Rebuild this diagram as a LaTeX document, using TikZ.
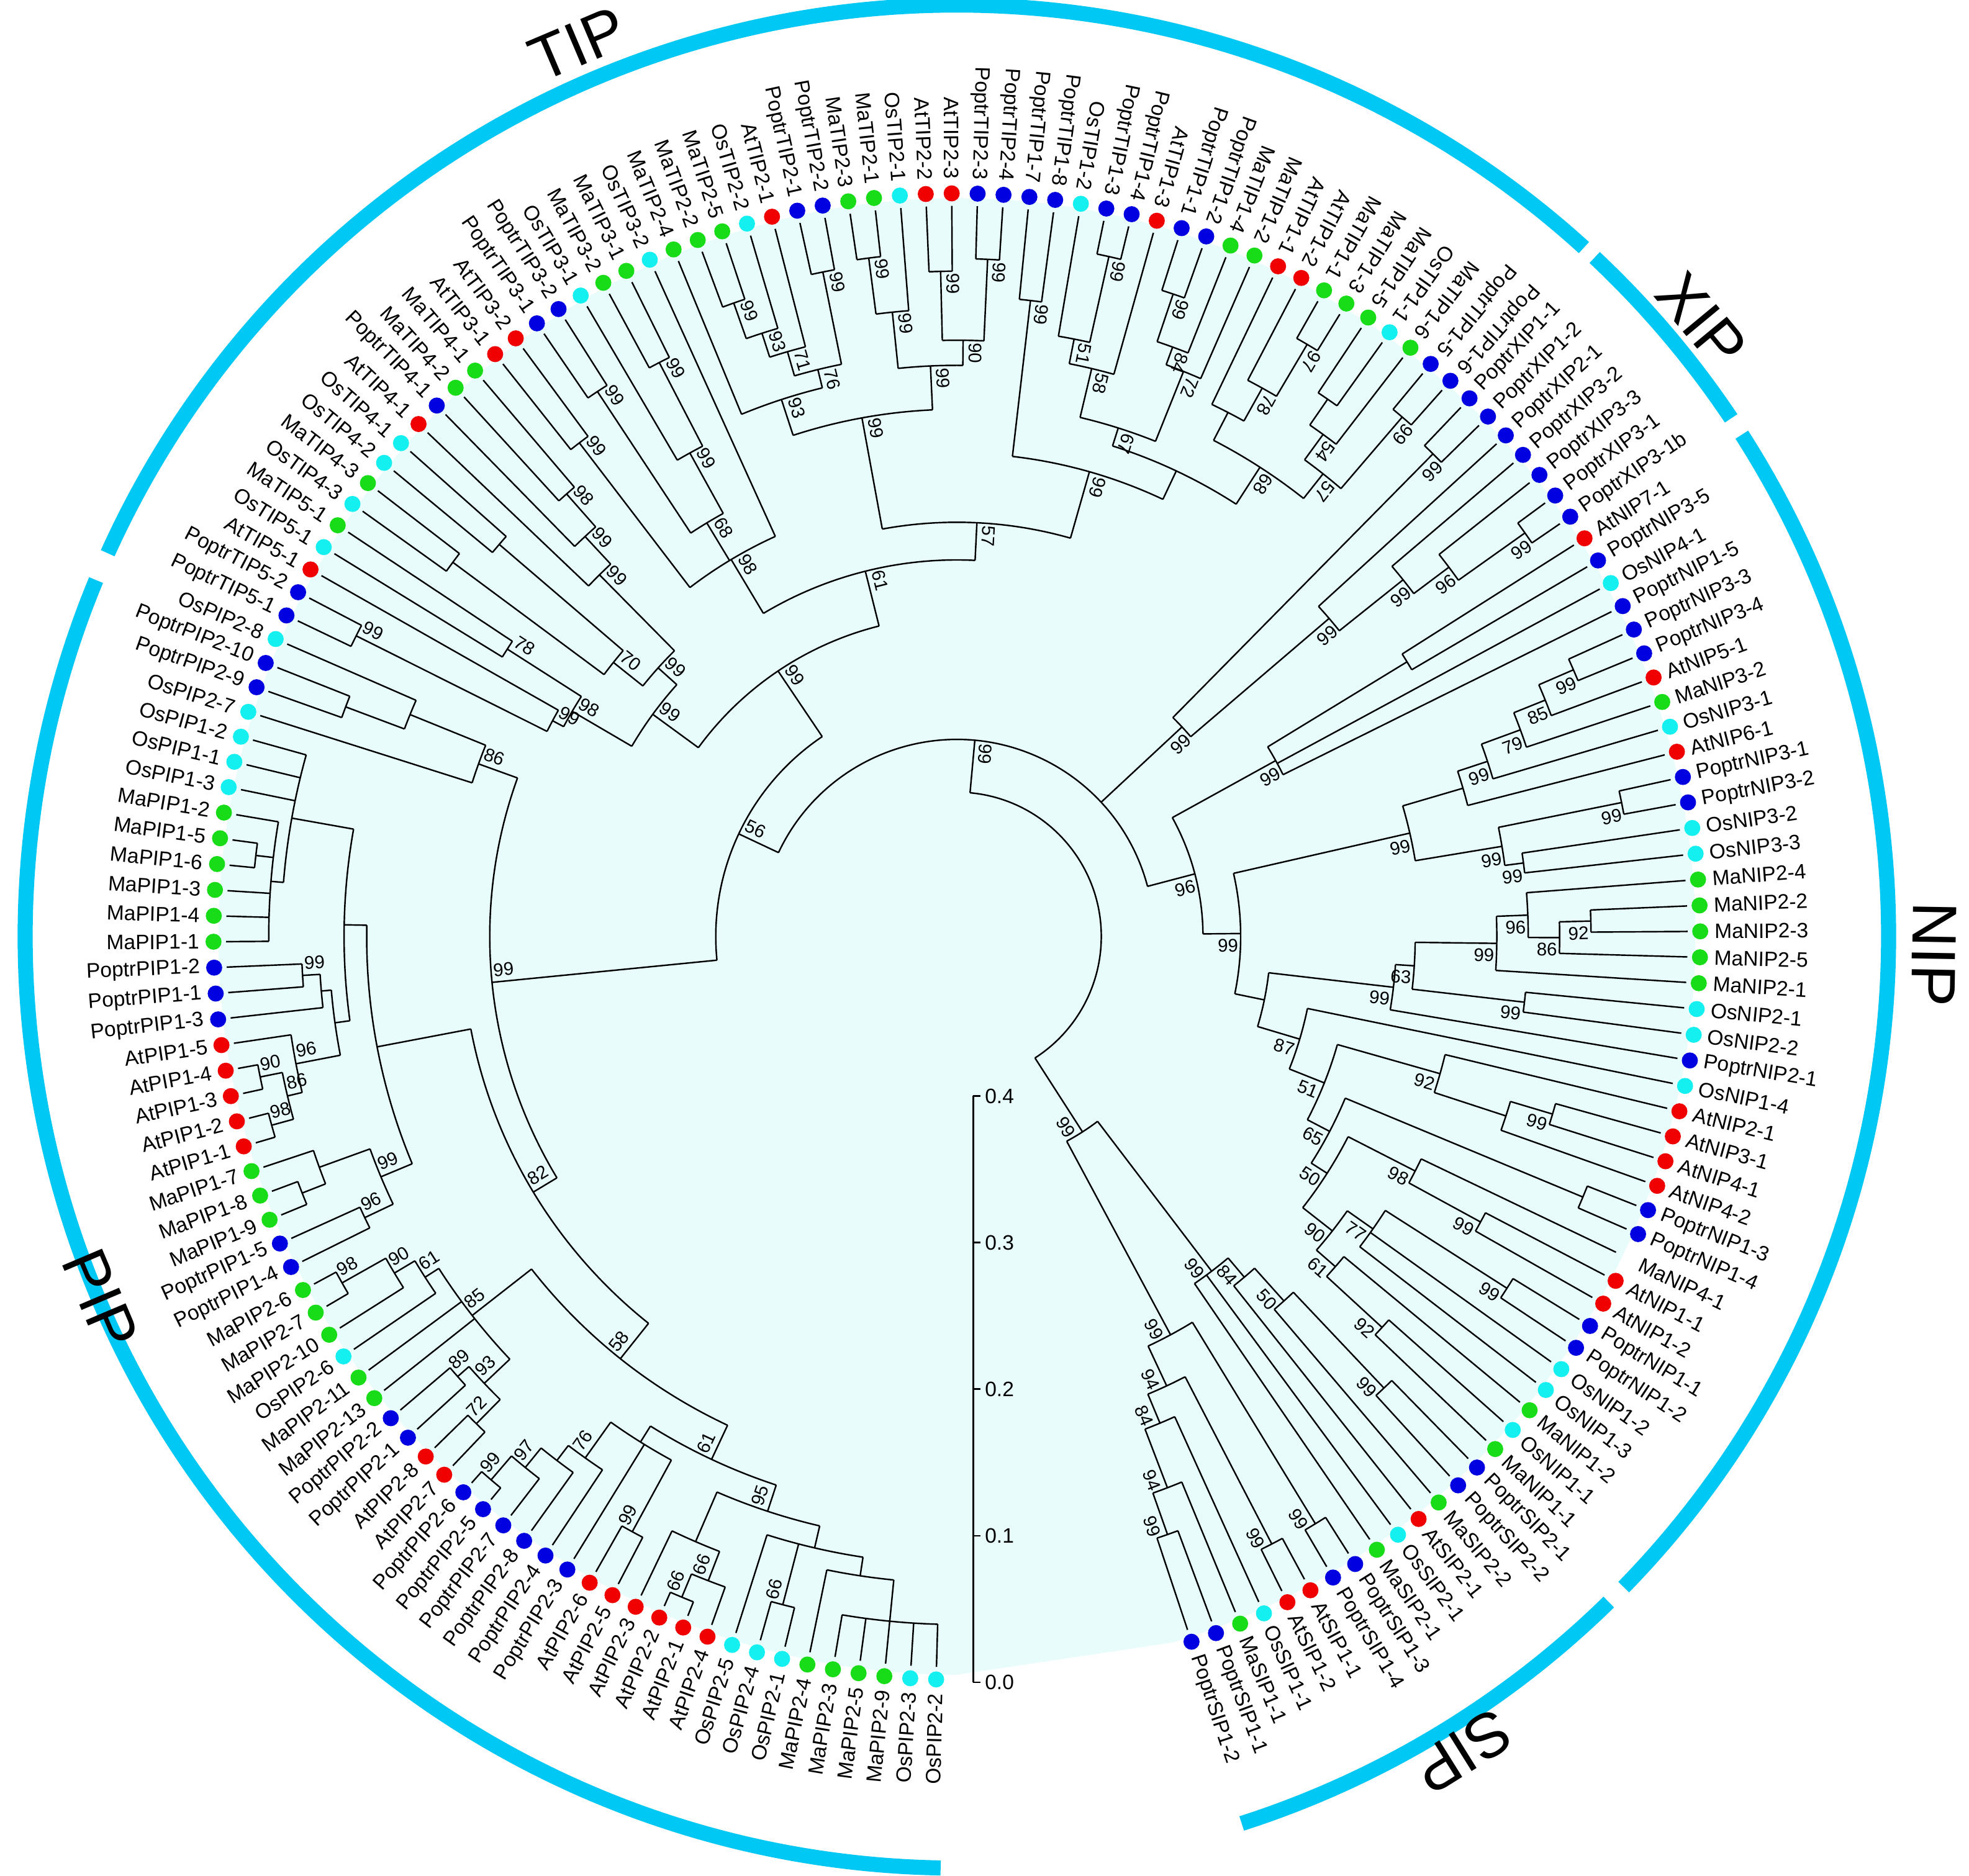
\documentclass[tikz,border=0pt]{standalone}
\usepackage{fontspec}
\setmainfont{Liberation Sans}
\definecolor{colr}{RGB}{240,0,0}
\definecolor{colb}{RGB}{0,0,225}
\definecolor{colg}{RGB}{25,220,25}
\definecolor{colc}{RGB}{20,240,240}
\definecolor{grp}{RGB}{0,200,245}
\definecolor{bgc}{RGB}{232,252,252}
\tikzset{br/.style={line width=0.6pt,black},
  lf/.style={font=\fontsize{8.3}{9}\selectfont,inner sep=0pt},
  bs/.style={font=\fontsize{7.3}{8}\selectfont,inner sep=0pt},
  grparc/.style={line width=6pt,grp},
  grplab/.style={font=\fontsize{25}{26}\selectfont,inner sep=0pt}}
\makeatletter
\newcommand\cl[4]{%
  \gdef\cl@first{}%
  \foreach \c in {#3}{%
    \pgfmathsetmacro\cl@a{\csname ang@\c\endcsname}%
    \pgfmathsetmacro\cl@R{\csname rad@\c\endcsname}%
    \draw[br] ({#2*cos(\cl@a)},{#2*sin(\cl@a)}) -- ({\cl@R*cos(\cl@a)},{\cl@R*sin(\cl@a)});%
    \ifx\cl@first\@empty\xdef\cl@first{\cl@a}\fi
    \xdef\cl@last{\cl@a}%
  }%
  \draw[br] ({#2*cos(\cl@first)},{#2*sin(\cl@first)}) arc[start angle=\cl@first,end angle=\cl@last,radius=#2*0.5pt];%
  \pgfmathsetmacro\cl@m{(\cl@first+\cl@last)/2}%
  \expandafter\xdef\csname ang@#1\endcsname{\cl@m}%
  \expandafter\xdef\csname rad@#1\endcsname{#2}%
  \if\relax\detokenize{#4}\relax\else
    \pgfmathsetmacro\cl@ba{\cl@m-560/#2}%
    \pgfmathsetmacro\cl@br{#2-10}%
    \pgfmathsetmacro\cl@rot{\cl@m>47?\cl@m+180:\cl@m}%
    \node[bs,rotate=\cl@rot] (bs#1) at ({\cl@br*cos(\cl@ba)},{\cl@br*sin(\cl@ba)}) {#4};%
  \fi
}
\makeatother
\begin{document}
\begin{tikzpicture}[x=0.5pt,y=0.5pt]
\fill[white] (-762,-748) rectangle (806,746);
\useasboundingbox (-762,-748) rectangle (806,746);
\fill[bgc] ({588*cos(-73)},{588*sin(-73)}) arc[start angle=-73,end angle=270,radius=294pt] -- cycle;
% group arcs
\draw[grparc] ({742*cos(157.5)},{742*sin(157.5)}) arc[start angle=157.5,end angle=269,radius=371pt];
\draw[grparc] ({742*cos(47.7)},{742*sin(47.7)}) arc[start angle=47.7,end angle=155.7,radius=371pt];
\draw[grparc] ({742*cos(33.8)},{742*sin(33.8)}) arc[start angle=33.8,end angle=46.8,radius=371pt];
\draw[grparc] ({742*cos(-44.3)},{742*sin(-44.3)}) arc[start angle=-44.3,end angle=32.6,radius=371pt];
\draw[grparc] ({742*cos(-72.2)},{742*sin(-72.2)}) arc[start angle=-72.2,end angle=-45.6,radius=371pt];
\node[grplab,rotate=23] (gTIP) at (-302,711) {TIP};
\node[grplab,rotate=-50.4] (gXIP) at (593,491) {XIP};
\node[grplab,rotate=-91] (gNIP) at (778,-14) {NIP};
\node[grplab,rotate=-148] (gSIP) at (403,-649) {SIP};
\node[grplab,rotate=-67] (gPIP) at (-682,-289) {PIP};
% leaves
\def\tmpn{n}
\foreach \i/\n/\c in {0/OsPIP2-2/c,1/OsPIP2-3/c,2/MaPIP2-9/g,3/MaPIP2-5/g,4/MaPIP2-3/g,5/MaPIP2-4/g,6/OsPIP2-1/c,7/OsPIP2-4/c,8/OsPIP2-5/c,9/AtPIP2-4/r,10/AtPIP2-1/r,11/AtPIP2-2/r,12/AtPIP2-3/r,13/AtPIP2-5/r,14/AtPIP2-6/r,15/PoptrPIP2-3/b,16/PoptrPIP2-4/b,17/PoptrPIP2-8/b,18/PoptrPIP2-7/b,19/PoptrPIP2-5/b,20/PoptrPIP2-6/b,21/AtPIP2-7/r,22/AtPIP2-8/r,23/PoptrPIP2-1/b,24/PoptrPIP2-2/b,25/MaPIP2-13/g,26/MaPIP2-11/g,27/OsPIP2-6/c,28/MaPIP2-10/g,29/MaPIP2-7/g,30/MaPIP2-6/g,31/PoptrPIP1-4/b,32/PoptrPIP1-5/b,33/MaPIP1-9/g,34/MaPIP1-8/g,35/MaPIP1-7/g,36/AtPIP1-1/r,37/AtPIP1-2/r,38/AtPIP1-3/r,39/AtPIP1-4/r,40/AtPIP1-5/r,41/PoptrPIP1-3/b,42/PoptrPIP1-1/b,43/PoptrPIP1-2/b,44/MaPIP1-1/g,45/MaPIP1-4/g,46/MaPIP1-3/g,47/MaPIP1-6/g,48/MaPIP1-5/g,49/MaPIP1-2/g,50/OsPIP1-3/c,51/OsPIP1-1/c,52/OsPIP1-2/c,53/OsPIP2-7/c,54/PoptrPIP2-9/b,55/PoptrPIP2-10/b,56/OsPIP2-8/c,
57/PoptrTIP5-1/b,58/PoptrTIP5-2/b,59/AtTIP5-1/r,60/OsTIP5-1/c,61/MaTIP5-1/g,62/OsTIP4-3/c,63/MaTIP4-3/g,64/OsTIP4-2/c,65/OsTIP4-1/c,66/AtTIP4-1/r,67/PoptrTIP4-1/b,68/MaTIP4-2/g,69/MaTIP4-1/g,70/AtTIP3-1/r,71/AtTIP3-2/r,72/PoptrTIP3-1/b,73/PoptrTIP3-2/b,74/OsTIP3-1/c,75/MaTIP3-2/g,76/MaTIP3-1/g,77/OsTIP3-2/c,78/MaTIP2-4/g,79/MaTIP2-2/g,80/MaTIP2-5/g,81/OsTIP2-2/c,82/AtTIP2-1/r,83/PoptrTIP2-1/b,84/PoptrTIP2-2/b,85/MaTIP2-3/g,86/MaTIP2-1/g,87/OsTIP2-1/c,88/AtTIP2-2/r,89/AtTIP2-3/r,90/PoptrTIP2-3/b,91/PoptrTIP2-4/b,92/PoptrTIP1-7/b,93/PoptrTIP1-8/b,94/OsTIP1-2/c,95/PoptrTIP1-3/b,96/PoptrTIP1-4/b,97/AtTIP1-3/r,98/PoptrTIP1-1/b,99/PoptrTIP1-2/b,100/MaTIP1-4/g,101/MaTIP1-2/g,102/AtTIP1-1/r,103/AtTIP1-2/r,104/MaTIP1-1/g,105/MaTIP1-3/g,106/MaTIP1-5/g,107/OsTIP1-1/c,108/MaTIP1-6/g,109/PoptrTIP1-5/b,110/PoptrTIP1-6/b,
111/PoptrXIP1-1/b,112/PoptrXIP1-2/b,113/PoptrXIP2-1/b,114/PoptrXIP3-2/b,115/PoptrXIP3-3/b,116/PoptrXIP3-1/b,117/PoptrXIP3-1b/b,
118/AtNIP7-1/r,119/PoptrNIP3-5/b,120/OsNIP4-1/c,121/PoptrNIP1-5/b,122/PoptrNIP3-3/b,123/PoptrNIP3-4/b,124/AtNIP5-1/r,125/MaNIP3-2/g,126/OsNIP3-1/c,127/AtNIP6-1/r,128/PoptrNIP3-1/b,129/PoptrNIP3-2/b,130/OsNIP3-2/c,131/OsNIP3-3/c,132/MaNIP2-4/g,133/MaNIP2-2/g,134/MaNIP2-3/g,135/MaNIP2-5/g,136/MaNIP2-1/g,137/OsNIP2-1/c,138/OsNIP2-2/c,139/PoptrNIP2-1/b,140/OsNIP1-4/c,141/AtNIP2-1/r,142/AtNIP3-1/r,143/AtNIP4-1/r,144/AtNIP4-2/r,145/PoptrNIP1-3/b,146/PoptrNIP1-4/b,147/MaNIP4-1/n,148/AtNIP1-1/r,149/AtNIP1-2/r,150/PoptrNIP1-1/b,151/PoptrNIP1-2/b,152/OsNIP1-2/c,153/OsNIP1-3/c,154/MaNIP1-2/g,155/OsNIP1-1/c,156/MaNIP1-1/g,
157/PoptrSIP2-1/b,158/PoptrSIP2-2/b,159/MaSIP2-2/g,160/AtSIP2-1/r,161/OsSIP2-1/c,162/MaSIP2-1/g,163/PoptrSIP1-3/b,164/PoptrSIP1-4/b,165/AtSIP1-1/r,166/AtSIP1-2/r,167/OsSIP1-1/c,168/MaSIP1-1/g,169/PoptrSIP1-1/b,170/PoptrSIP1-2/b}{%
  \pgfmathsetmacro\a{268.4-2*\i}%
  \expandafter\xdef\csname ang@\i\endcsname{\a}%
  \expandafter\xdef\csname rad@\i\endcsname{582}%
  \ifx\c\tmpn\else
    \fill[col\c] ({592*cos(\a)},{592*sin(\a)}) circle[radius=3.2pt];
  \fi
  \ifnum\i<111
    \node[lf,anchor=east,rotate=\a+180] (leaf\i) at ({603*cos(\a)},{603*sin(\a)}) {\n};
  \else
    \node[lf,anchor=west,rotate=\a] (leaf\i) at ({603*cos(\a)},{603*sin(\a)}) {\n};
  \fi
}
% ---- PIP
\cl{m1}{548}{0,1,2,3,4}{}
\cl{m2}{515}{m1,5}{}
\cl{m3}{550}{6,7}{66}
\cl{m4}{500}{m2,m3,8}{}
\cl{a1}{570}{10,11}{66}
\cl{a2}{550}{9,a1}{66}
\cl{a5}{525}{a2,12}{}
\cl{m6}{482}{m4,a5}{95}
\cl{a4}{540}{13,14}{99}
\cl{b1}{570}{19,20}{99}
\cl{b2}{545}{18,b1}{97}
\cl{b3}{525}{17,b2}{}
\cl{b4}{510}{16,b3}{76}
\cl{b5}{475}{a4,15,b4}{}
\cl{m8}{460}{m6,b5}{61}
\cl{c1}{545}{21,22}{72}
\cl{c2}{530}{23,24}{89}
\cl{c3}{518}{c1,c2}{93}
\cl{d1}{562}{29,30}{98}
\cl{d2}{522}{28,d1}{90}
\cl{d3}{503}{27,d2}{61}
\cl{d4}{490}{c3,25,26,d3}{85}
\cl{m9}{430}{m8,d4}{58}
\cl{e1}{522}{31,32}{96}
\cl{e2}{560}{33,34}{}
\cl{e3}{540}{e2,35}{}
\cl{e4}{497}{e1,e3}{99}
\cl{f1}{566}{36,37}{98}
\cl{f2}{566}{38,39}{90}
\cl{f3}{548}{f1,f2}{86}
\cl{f4}{536}{f3,40}{96}
\cl{g1}{522}{42,43}{99}
\cl{g2}{508}{41,g1}{}
\cl{h1}{562}{47,48}{}
\cl{h2}{548}{44,45,46,h1,49}{}
\cl{h3}{538}{h2,50,51,52}{}
\cl{k1}{500}{f4,g2}{}
\cl{k2}{488}{k1,h3}{}
\cl{p1}{470}{e4,k2}{}
\cl{p82}{394}{m9,p1}{82}
\cl{q1}{520}{54,55}{}
\cl{q2}{470}{q1,56}{}
\cl{q3}{405}{53,q2}{86}
\cl{pip}{372}{p82,q3}{99}
% ---- TIP
\cl{t5a}{535}{57,58}{99}
\cl{t5b}{365}{t5a,59}{99}
\cl{t5c}{425}{60,61}{78}
\cl{t5d}{355}{t5b,t5c}{98}
\cl{t4a}{500}{62,63}{}
\cl{t4b}{480}{64,65}{}
\cl{t4c}{350}{t4a,t4b}{70}
\cl{t4d}{470}{68,69}{98}
\cl{t4e}{435}{67,t4d}{99}
\cl{t4f}{405}{66,t4e}{99}
\cl{t4}{320}{t4c,t4f}{99}
\cl{t54}{300}{t5d,t4}{99}
\cl{t3p}{495}{70,71}{99}
\cl{t3a}{520}{72,73}{99}
\cl{t3q}{515}{75,76}{99}
\cl{t3b}{440}{74,t3q}{99}
\cl{t3c}{385}{t3a,t3b}{68}
\cl{t3}{350}{t3p,t3c,77}{98}
\cl{u1}{535}{79,80}{99}
\cl{u2}{505}{u1,81}{93}
\cl{u3}{485}{u2,82}{71}
\cl{u4}{540}{83,84}{99}
\cl{u5}{465}{u3,u4}{76}
\cl{u6}{450}{78,u5}{93}
\cl{u7}{545}{85,86}{99}
\cl{u8}{500}{u7,87}{99}
\cl{u9}{530}{88,89}{99}
\cl{u11}{540}{90,91}{99}
\cl{u12}{475}{u9,u11}{90}
\cl{u13}{455}{u8,u12}{99}
\cl{u14}{420}{u6,u13}{99}
\cl{v1}{510}{92,93}{99}
\cl{v2}{555}{95,96}{99}
\cl{v3}{485}{94,v2}{51}
\cl{v4}{465}{v3,97}{58}
\cl{v5}{540}{98,99}{99}
\cl{v6}{500}{v5,100}{84}
\cl{v7}{485}{v6,101}{72}
\cl{v8}{425}{v4,v7}{67}
\cl{w1}{548}{104,105}{97}
\cl{w2}{500}{103,w1}{78}
\cl{w7}{470}{102,w2}{}
\cl{w3}{520}{106,107}{}
\cl{w4}{495}{w3,108}{54}
\cl{w5}{545}{109,110}{99}
\cl{w6}{470}{w4,w5}{57}
\cl{w8}{445}{w7,w6}{68}
\cl{t1a}{410}{v8,w8}{}
\cl{t1}{385}{v1,t1a}{99}
\cl{t12}{330}{u14,t1}{57}
\cl{t123}{300}{t3,t12}{61}
\cl{tip}{255}{t54,t123}{99}
% ---- XIP
\cl{x1}{540}{111,112}{99}
\cl{x2}{555}{116,117}{99}
\cl{x3}{490}{115,x2}{96}
\cl{x4}{455}{114,x3}{99}
\cl{x5}{390}{113,x4}{99}
\cl{xip}{245}{x1,x5}{99}
% ---- NIP
\cl{t1n}{420}{118,119}{}
\cl{nt}{290}{t1n,120,121}{99}
\cl{na1}{535}{122,123}{99}
\cl{na2}{505}{na1,124}{85}
\cl{na3}{478}{na2,125}{79}
\cl{na4}{445}{na3,126}{99}
\cl{na5}{420}{na4,127}{}
\cl{nb1}{540}{128,129}{99}
\cl{nb2}{455}{130,131}{99}
\cl{nb3}{440}{nb1,nb2}{99}
\cl{g3}{370}{na5,nb3}{99}
\cl{c1n}{505}{133,134}{92}
\cl{c2n}{480}{c1n,135}{86}
\cl{c3n}{455}{132,c2n}{96}
\cl{c4n}{430}{c3n,136}{99}
\cl{c5n}{455}{137,138}{99}
\cl{c6n}{365}{c4n,c5n}{63}
\cl{c7n}{350}{c6n,139}{99}
\cl{d1n}{495}{142,143}{99}
\cl{d2n}{460}{d1n,144}{}
\cl{d3n}{400}{141,d2n}{92}
\cl{f0n}{540}{145,146}{}
\cl{f1n}{475}{148,149}{99}
\cl{f2n}{410}{147,f1n}{98}
\cl{f3n}{520}{150,151}{99}
\cl{f4n}{405}{f3n,152,153}{77}
\cl{f5n}{460}{155,156}{92}
\cl{f6n}{400}{154,f5n}{61}
\cl{f7n}{380}{f4n,f6n}{90}
\cl{f8n}{350}{f2n,f7n}{50}
\cl{f9n}{335}{f0n,f8n}{65}
\cl{f10n}{315}{d3n,f9n}{51}
\cl{f11n}{285}{140,f10n}{87}
\cl{xn}{250}{c7n,f11n}{}
\cl{nb}{226}{g3,xn}{99}
\cl{nip}{196}{nt,nb}{96}
% ---- SIP
\cl{s2a}{495}{157,158}{99}
\cl{s2c}{390}{s2a,159}{50}
\cl{s2d}{355}{s2c,160}{84}
\cl{s2e}{335}{s2d,161,162}{99}
\cl{p1s}{548}{163,164}{99}
\cl{p2s}{545}{165,166}{99}
\cl{p3s}{505}{169,170}{99}
\cl{p4s}{470}{168,p3s}{94}
\cl{p5s}{420}{167,p4s}{84}
\cl{p6s}{395}{p2s,p5s}{94}
\cl{p7s}{360}{p1s,p6s}{99}
\cl{sip}{185}{s2e,p7s}{99}
% ---- top
\cl{pt}{192}{pip,tip}{56}
\cl{A}{157}{pt,xip,nip}{99}
\cl{root}{115}{A,sip}{}
% scale bar
\coordinate (sbt) at (13,-127);
\coordinate (sbb) at (13,-594);
\draw[br] (sbt) -- (sbb);
\foreach \v in {0,1,2,3,4}{
  \draw[br] (13,{-594+116.75*\v}) -- (19,{-594+116.75*\v});
  \node[lf,anchor=west] (sb\v) at (22,{-594+116.75*\v}) {0.\v};
}
\end{tikzpicture}
\end{document}
